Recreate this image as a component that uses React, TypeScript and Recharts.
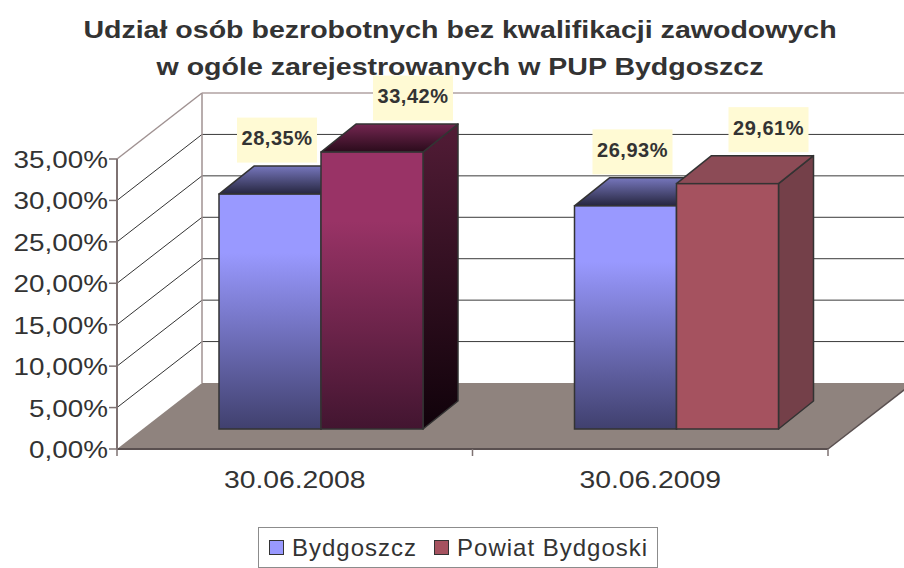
import React from 'react';
import { BarChart, Bar, XAxis, YAxis, CartesianGrid, LabelList, Legend } from 'recharts';

// ---- data ----
const categories = ['30.06.2008', '30.06.2009'];
const bydgoszcz = [28.35, 26.93];
const powiat = [33.42, 29.61];
const yTicks = [0, 5, 10, 15, 20, 25, 30, 35];
const seriesNames = ['Bydgoszcz', 'Powiat Bydgoski'];
const titleLines = [
  'Udział osób bezrobotnych bez kwalifikacji zawodowych',
  'w ogóle zarejestrowanych w PUP Bydgoszcz',
];

const data = categories.map((c, i) => ({ cat: c, b: bydgoszcz[i], p: powiat[i] }));

// ---- layout ----
const W = 904;
const H = 568;
const PLOT_L = 117;
const PLOT_R = 828;
const PLOT_T = 159;
const PLOT_B = 449;
const WALL_DX = 85;
const WALL_DY = 66;
const BAR_DX = 26;
const BAR_DY = -20;
const DEPTH_DX = 35;
const DEPTH_DY = 28;
const BAND = (PLOT_R - PLOT_L) / categories.length;
const FONT = '"Liberation Sans", Arial, Helvetica, sans-serif';
const TEXT = '#333333';
const AXIS_STRETCH = 1.16;
const TITLE_STRETCH = 1.19;

const fmt = (v: number) => v.toFixed(2).replace('.', ',') + '%';

type FaceStyle = { front: [string, string]; top: [string, string]; side: [string, string] };
const barStyles: Record<string, FaceStyle[]> = {
  b: [
    { front: ['#9999FF', '#40406E'], top: ['#7676BC', '#26263F'], side: ['#50508A', '#1A1A30'] },
    { front: ['#9999FF', '#40406E'], top: ['#7676BC', '#26263F'], side: ['#50508A', '#1A1A30'] },
  ],
  p: [
    { front: ['#993366', '#421530'], top: ['#732650', '#2A0B1B'], side: ['#521C36', '#10020A'] },
    { front: ['#A5525F', '#A5525F'], top: ['#8C4B56', '#8C4B56'], side: ['#744049', '#744049'] },
  ],
};
const legendColors = ['#9999FF', '#A5525F'];

const makeShape = (key: string) => (props: any) => {
  const { x, y, width, height, payload } = props;
  let idx = typeof props.index === 'number' ? props.index : categories.indexOf(payload?.cat);
  if (idx < 0) idx = 0;
  const st = barStyles[key][idx];
  const fx = Number(x) + BAR_DX;
  const fy = Number(y) + BAR_DY;
  const w = Number(width);
  const h = Number(height);
  const id = `g-${key}-${idx}`;
  const stroke = '#333333';
  const sw = 1.5;
  return (
    <g>
      <defs>
        <linearGradient id={`${id}-f`} x1="0" y1="0" x2="0" y2="1">
          <stop offset="0" stopColor={st.front[0]} />
          <stop offset="0.25" stopColor={st.front[0]} />
          <stop offset="1" stopColor={st.front[1]} />
        </linearGradient>
        <linearGradient id={`${id}-t`} x1="0" y1="0" x2="0" y2="1">
          <stop offset="0" stopColor={st.top[0]} />
          <stop offset="1" stopColor={st.top[1]} />
        </linearGradient>
        <linearGradient id={`${id}-s`} x1="0" y1="0" x2="0" y2="1">
          <stop offset="0" stopColor={st.side[0]} />
          <stop offset="1" stopColor={st.side[1]} />
        </linearGradient>
      </defs>
      <polygon
        points={`${fx + w},${fy} ${fx + w + DEPTH_DX},${fy - DEPTH_DY} ${fx + w + DEPTH_DX},${fy + h - DEPTH_DY} ${fx + w},${fy + h}`}
        fill={`url(#${id}-s)`}
        stroke={stroke}
        strokeWidth={sw}
        strokeLinejoin="round"
      />
      <polygon
        points={`${fx},${fy} ${fx + DEPTH_DX},${fy - DEPTH_DY} ${fx + w + DEPTH_DX},${fy - DEPTH_DY} ${fx + w},${fy}`}
        fill={`url(#${id}-t)`}
        stroke={stroke}
        strokeWidth={sw}
        strokeLinejoin="round"
      />
      <rect x={fx} y={fy} width={w} height={h} fill={`url(#${id}-f)`} stroke={stroke} strokeWidth={sw} />
    </g>
  );
};

const makeLabel = (offX: number) => (props: any) => {
  const { x, y, value } = props;
  const cx = Number(x) + BAR_DX + offX;
  const cy = Number(y) + BAR_DY - 54;
  return (
    <g>
      <rect x={cx - 40} y={cy - 22.5} width={80} height={45} fill="#FFFAD4" />
      <text
        x={cx}
        y={cy + 5}
        textAnchor="middle"
        fontFamily={FONT}
        fontWeight="bold"
        fontSize={20}
        letterSpacing={0.5}
        fill={TEXT}
      >
        {fmt(Number(value))}
      </text>
    </g>
  );
};

const gridLine = (props: any) => {
  const y = Number(props.y1);
  const bx = PLOT_L + WALL_DX;
  const by = y - WALL_DY;
  const k = `gl-${y}`;
  if (Math.abs(y - PLOT_B) < 1) {
    return (
      <g key={k}>
        <polygon
          points={`${PLOT_L},${y} ${PLOT_R},${y} ${PLOT_R + WALL_DX},${by} ${bx},${by}`}
          fill="#8F837E"
        />
        <line x1={PLOT_R} y1={y} x2={PLOT_R + WALL_DX} y2={by} stroke="#5A5050" strokeWidth={1.5} />
      </g>
    );
  }
  if (Math.abs(y - PLOT_T) < 1) {
    return (
      <g key={k}>
        <line x1={bx} y1={by} x2={bx} y2={PLOT_B - WALL_DY} stroke="#A09292" strokeWidth={1.5} />
        <line x1={PLOT_L} y1={y} x2={bx} y2={by} stroke="#A09292" strokeWidth={1.5} />
        <line x1={bx} y1={by} x2={W} y2={by} stroke="#B0A2A2" strokeWidth={1.5} />
      </g>
    );
  }
  return (
    <g key={k}>
      <line x1={PLOT_L} y1={y} x2={bx} y2={by} stroke="#333333" strokeWidth={1} />
      <line x1={bx} y1={by} x2={W} y2={by} stroke="#3A3A3A" strokeWidth={1} />
    </g>
  );
};

const YTick = (props: any) => {
  const { x, y, payload } = props;
  return (
    <text
      transform={`translate(${Number(x) + 1}, ${Number(y) + 9}) scale(${AXIS_STRETCH}, 1)`}
      x={0}
      y={0}
      textAnchor="end"
      fontFamily={FONT}
      fontSize={24}
      fill={TEXT}
    >
      {fmt(Number(payload.value))}
    </text>
  );
};

const XTick = (props: any) => {
  const { x, payload, index } = props;
  const cx = Number(x);
  return (
    <g>
      {index === 0 && (
        <line x1={cx - BAND / 2} y1={PLOT_B} x2={cx - BAND / 2} y2={PLOT_B + 7} stroke="#7E7272" strokeWidth={1.5} />
      )}
      <line x1={cx + BAND / 2} y1={PLOT_B} x2={cx + BAND / 2} y2={PLOT_B + 7} stroke="#7E7272" strokeWidth={1.5} />
      <text
        transform={`translate(${cx}, ${PLOT_B + 39}) scale(${AXIS_STRETCH + 0.02}, 1)`}
        x={0}
        y={0}
        textAnchor="middle"
        fontFamily={FONT}
        fontSize={24}
        fill={TEXT}
      >
        {payload.value}
      </text>
    </g>
  );
};

const LegendContent = () => (
  <div
    style={{
      boxSizing: 'border-box',
      width: 400,
      height: 41,
      border: '1px solid #8C8C8C',
      display: 'flex',
      alignItems: 'center',
      paddingLeft: 10,
      fontFamily: FONT,
      fontSize: 24,
      color: TEXT,
      letterSpacing: 1,
      background: '#fff',
      whiteSpace: 'nowrap',
    }}
  >
    {seriesNames.map((n, i) => (
      <span key={n} style={{ display: 'flex', alignItems: 'center', marginRight: 17 }}>
        <span
          style={{
            display: 'inline-block',
            width: 15,
            height: 15,
            boxSizing: 'border-box',
            border: '1px solid #333',
            background: legendColors[i],
            marginRight: 8,
          }}
        />
        {n}
      </span>
    ))}
  </div>
);

export default function App() {
  return (
    <div style={{ position: 'relative', width: W, height: H, background: '#fff', overflow: 'hidden' }}>
      <style>{'body{margin:0;}'}</style>
      <BarChart
        width={W}
        height={H}
        data={data}
        margin={{ top: PLOT_T, right: W - PLOT_R, bottom: H - PLOT_B - 40, left: 0 }}
        barGap={0}
      >
        <CartesianGrid horizontal={gridLine as any} vertical={false} />
        <XAxis
          dataKey="cat"
          height={40}
          tickLine={false}
          axisLine={{ stroke: '#5A5050', strokeWidth: 2 }}
          tick={XTick}
          interval={0}
        />
        <YAxis
          type="number"
          domain={[0, 35]}
          ticks={yTicks}
          width={PLOT_L}
          interval={0}
          axisLine={{ stroke: '#7E7272', strokeWidth: 2 }}
          tickLine={{ stroke: '#7E7272', strokeWidth: 1.5 }}
          tickSize={8}
          tickMargin={2}
          tick={YTick}
        />
        <Bar dataKey="b" name={seriesNames[0]} fill="#9999FF" barSize={102} isAnimationActive={false} shape={makeShape('b')}>
          <LabelList dataKey="b" content={makeLabel(58)} />
        </Bar>
        <Bar dataKey="p" name={seriesNames[1]} fill="#A5525F" barSize={102} isAnimationActive={false} shape={makeShape('p')}>
          <LabelList dataKey="p" content={makeLabel(92)} />
        </Bar>
        <Legend
          layout="horizontal"
          verticalAlign="middle"
          align="center"
          content={() => <LegendContent />}
          wrapperStyle={{ position: 'absolute', left: 258, top: 527, width: 400, height: 41, margin: 0 }}
        />
      </BarChart>
      <svg
        width={W}
        height={90}
        style={{ position: 'absolute', left: 0, top: 0, pointerEvents: 'none' }}
      >
        {titleLines.map((t, i) => (
          <text
            key={i}
            transform={`translate(460, ${38 + i * 37}) scale(${TITLE_STRETCH}, 1)`}
            x={0}
            y={0}
            textAnchor="middle"
            fontFamily={FONT}
            fontWeight="bold"
            fontSize={24}
            fill={TEXT}
          >
            {t}
          </text>
        ))}
      </svg>
    </div>
  );
}
